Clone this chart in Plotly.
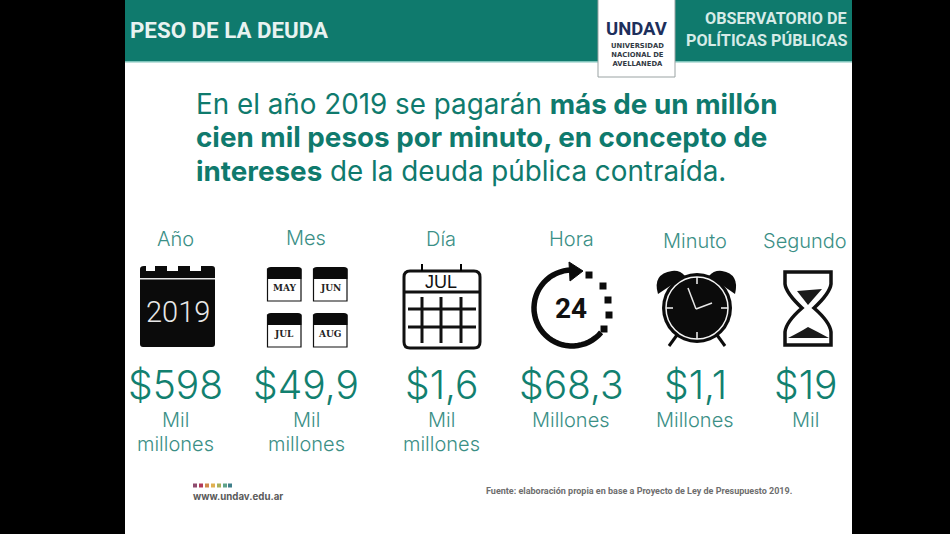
import math
import plotly.graph_objects as go

# ---- content ----
periodos = ["Año", "Mes", "Día", "Hora", "Minuto", "Segundo"]
montos = ["$598", "$49,9", "$1,6", "$68,3", "$1,1", "$19"]
unidad_1 = ["Mil", "Mil", "Mil", "Millones", "Millones", "Mil"]
unidad_2 = ["millones", "millones", "millones", "", "", ""]
titulo = [
    "En el año 2019 se pagarán <b>más de un millón</b>",
    "<b>cien mil pesos por minuto, en concepto de</b>",
    "<b>intereses</b> de la deuda pública contraída.",
]
meses = ["MAY", "JUN", "JUL", "AUG"]

# ---- layout ----
cx = [175, 306, 441, 571, 695, 805]
y_per = [239, 238, 239, 239, 241, 241]
TEAL = "#0f7a6d"
SOFT = "#3b8f86"
NAVY = "#1d2f5c"
shapes, notes = [], []


def rect(x0, y0, x1, y1, fill, line=None, w=0):
    shapes.append(dict(type="rect", x0=x0, y0=y0, x1=x1, y1=y1, fillcolor=fill,
                       line=dict(color=line or fill, width=w), layer="above"))


def path(d, fill="rgba(0,0,0,0)", line="#000", w=0):
    shapes.append(dict(type="path", path=d, fillcolor=fill,
                       line=dict(color=line, width=w), layer="above"))


def seg(x0, y0, x1, y1, color="#000", w=2):
    shapes.append(dict(type="line", x0=x0, y0=y0, x1=x1, y1=y1,
                       line=dict(color=color, width=w), layer="above"))


def circle(x, y, r, fill, line=None, w=0):
    shapes.append(dict(type="circle", x0=x - r, y0=y - r, x1=x + r, y1=y + r, fillcolor=fill,
                       line=dict(color=line or fill, width=w), layer="above"))


def text(x, y, s, size, color, font="Inter", anchor="center", weight=None):
    f = dict(size=size, color=color, family=font)
    if weight:
        f["weight"] = weight
    notes.append(dict(x=x, y=y, text=s, showarrow=False, xanchor=anchor, yanchor="middle", font=f))


def arc(x, y, r, a0, a1, n=40):
    pts = []
    for i in range(n + 1):
        a = math.radians(a0 + (a1 - a0) * i / n)
        pts.append((x + r * math.cos(a), y + r * math.sin(a)))
    return "M " + " L ".join(f"{p[0]:.1f},{p[1]:.1f}" for p in pts)


# background panels
rect(125, 0, 852, 534, "#ffffff")
rect(125, 0, 852, 62, TEAL)
rect(125, 61, 852, 62.5, "#7fc4bb")
rect(598, -2, 675, 77, "#ffffff", "#9aa3a3", 1)
text(128, 30, "<b>PESO DE LA DEUDA</b>", 22.3, "#e8f3f1", "Roboto", "left")
text(849, 18, "<b>OBSERVATORIO DE</b>", 16.2, "#d6ebe7", "Roboto", "right")
text(849, 40, "<b>POLÍTICAS PÚBLICAS</b>", 16.2, "#d6ebe7", "Roboto", "right")
text(637, 29, "<b>UNDAV</b>", 18.5, NAVY, "Roboto")
text(637, 54.5, "<b>UNIVERSIDAD<br>NACIONAL DE<br>AVELLANEDA</b>", 6.8, "#333a44", "DejaVu Sans")

# headline
for yy, line in zip([104, 137, 171], titulo):
    text(194, yy, line, 27.8, TEAL, "Inter", "left")

# periods, amounts and units
for i, p in enumerate(periodos):
    text(cx[i], y_per[i], p, 20, SOFT, weight=300)
    text(cx[i], 384, montos[i], 39, "#12806f", weight=300)
    text(cx[i], 420, unidad_1[i], 20, SOFT, weight=300)
    if unidad_2[i]:
        text(cx[i], 444, unidad_2[i], 20, SOFT, weight=300)

# --- Año: big calendar ---
path("M 140,269 Q 140,266 144,266 L 146,266 L 146,271 L 155,271 L 155,266 L 167,266 L 167,271 L 178,271 L 178,266 "
     "L 190,266 L 190,271 L 201,271 L 201,266 L 212,266 Q 215,266 215,269 L 215,344 Q 215,347 212,347 L 143,347 "
     "Q 140,347 140,344 Z", fill="#0b0b0b", line="#0b0b0b", w=0)
rect(140, 278, 215, 279.5, "#e6e6e6")
text(178, 312, "2019", 29, "#e8e8e8", "Roboto", weight=300)

# --- Mes: four small calendars ---
for k, (mx, my) in enumerate([(267, 267), (313, 267), (267, 313), (313, 313)]):
    rect(mx + 0.5, my + 2, mx + 34, my + 34, "#ffffff", "#111111", 1.2)
    path(f"M {mx},{my + 12} L {mx},{my + 3} Q {mx},{my} {mx + 4},{my} L {mx + 31},{my} "
         f"Q {mx + 34.5},{my} {mx + 34.5},{my + 3} L {mx + 34.5},{my + 12} Z", fill="#0b0b0b", line="#0b0b0b", w=0)
    text(mx + 17, my + 21, f"<b>{meses[k]}</b>", 9, "#222222", "DejaVu Serif")

# --- Día: line calendar ---
path("M 410,271 L 474,271 Q 480,271 480,277 L 480,342 Q 480,348 474,348 L 410,348 Q 404,348 404,342 "
     "L 404,277 Q 404,271 410,271 Z", fill="#ffffff", line="#111111", w=3)
seg(422, 264, 422, 271)
seg(461, 264, 461, 271)
text(441, 282, "JUL", 18, "#111111", "Liberation Sans")
seg(404, 292, 480, 292, "#111111", 3)
for vx in [422, 441, 461]:
    seg(vx, 297, vx, 343, "#111111", 3)
for hy in [309, 327]:
    seg(408, hy, 476, hy, "#111111", 3)

# --- Hora: 24h arrow ---
path(arc(572, 308, 38, -85, -320), line="#0b0b0b", w=5.5)
path("M 569,262 L 583,271 L 570,281 Z", fill="#0b0b0b", line="#0b0b0b", w=1)
for dx, dy in [(589, 275), (603, 286), (608, 300), (609, 315), (604, 329)]:
    rect(dx - 3.5, dy - 3.5, dx + 3.5, dy + 3.5, "#0b0b0b")
text(571, 308, "<b>24</b>", 28, "#111111", "Roboto")

# --- Minuto: alarm clock ---
path("M 658,294 Q 652,274 672,271 Q 680,270 685,276 Z", fill="#0b0b0b", line="#0b0b0b", w=0)
path("M 735,294 Q 740,274 722,271 Q 714,270 709,276 Z", fill="#0b0b0b", line="#0b0b0b", w=0)
seg(677, 335, 669, 346, "#0b0b0b", 3)
seg(717, 335, 725, 346, "#0b0b0b", 3)
circle(697, 308, 35, "#0b0b0b")
circle(697, 308, 31, "#0b0b0b", "#f4f4f4", 1.5)
for a in [0, 90, 180, 270]:
    ca, sa = math.cos(math.radians(a)), math.sin(math.radians(a))
    seg(697 + 24 * ca, 308 + 24 * sa, 697 + 31 * ca, 308 + 31 * sa, "#f4f4f4", 1.5)
seg(696, 309, 688, 288, "#e8e8e8", 1.5)
seg(696, 309, 712, 303, "#e8e8e8", 1.5)

# --- Segundo: hourglass ---
path("M 785,272 L 831,272 L 831,284 Q 830,293 814,308 Q 830,322 831,332 L 831,345 L 785,345 "
     "L 785,332 Q 786,322 802,308 Q 786,293 785,284 Z", fill="#ffffff", line="#111111", w=3.5)
path("M 797,291 L 822,289 L 808,305 Z", fill="#1a1a1a", line="#1a1a1a", w=0)
path("M 788,338 Q 800,332 808,327 Q 818,332 829,338 Z", fill="#1a1a1a", line="#1a1a1a", w=0)

# footer
for dx, col in zip([195, 201, 207, 213, 219, 225, 230],
                   ["#8e4b6e", "#b23a5a", "#d08a4a", "#e0b050", "#a9b05a", "#5ea38a", "#3f7f8a"]):
    rect(dx - 2, 483.5, dx + 2, 487.5, col)
text(191, 496, "<b>www.undav.edu.ar</b>", 9.7, "#5a5a5a", "Inter", "left")
text(484, 491, "<b>Fuente: elaboración propia en base a Proyecto de Ley de Presupuesto 2019.</b>",
     9, "#6e6e6e", "Roboto", "left")

fig = go.Figure()
fig.add_trace(go.Scatter(x=[0], y=[0], mode="markers", marker=dict(opacity=0), hoverinfo="skip", showlegend=False))
fig.update_layout(
    width=950, height=534, margin=dict(l=0, r=0, t=0, b=0),
    paper_bgcolor="#000000", plot_bgcolor="#000000",
    xaxis=dict(range=[0, 950], visible=False, fixedrange=True),
    yaxis=dict(range=[534, 0], visible=False, fixedrange=True),
    shapes=shapes, annotations=notes, showlegend=False,
)
fig.write_html("out.html", config={"displayModeBar": False},
               post_script="document.body.style.margin='0';document.body.style.background='#000';")
